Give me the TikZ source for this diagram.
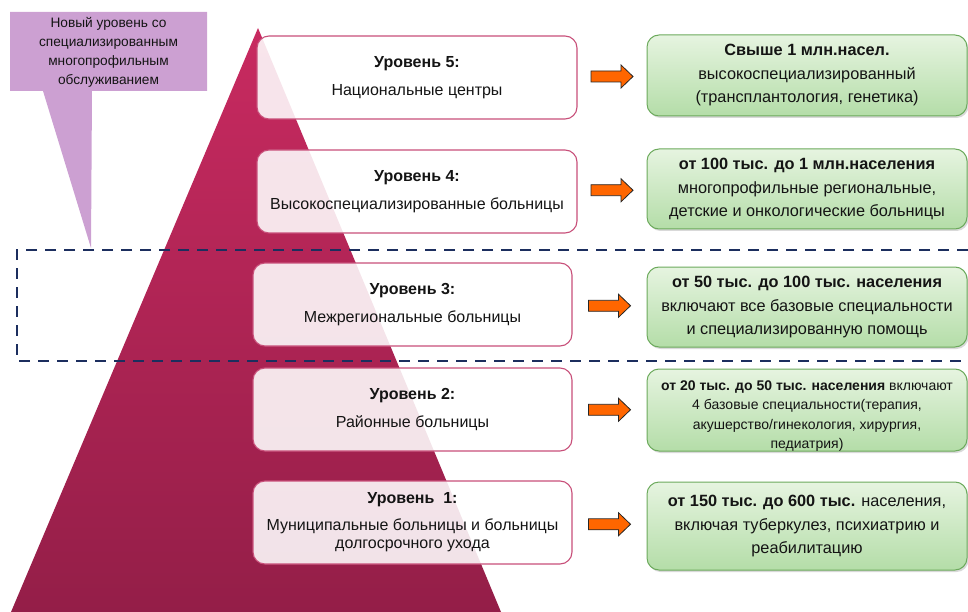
\documentclass[tikz,border=0pt]{standalone}
\usepackage{fontspec}
\setmainfont{Liberation Sans}
\usetikzlibrary{shadows,calc}
\definecolor{tritop}{RGB}{200,42,96}
\definecolor{tribot}{RGB}{148,30,72}
\definecolor{callc}{RGB}{204,160,210}
\definecolor{grntop}{RGB}{230,244,224}
\definecolor{grnbot}{RGB}{180,221,168}
\definecolor{grnb}{RGB}{108,170,92}
\definecolor{pinkb}{RGB}{200,80,122}
\definecolor{orng}{RGB}{255,102,0}
\definecolor{navy}{RGB}{28,46,94}
\definecolor{txt}{RGB}{20,20,20}
\begin{document}
\begin{tikzpicture}[x=1pt,y=-1pt,
  lvl/.style={draw=pinkb, line width=1.1pt, fill=white, fill opacity=0.88, text opacity=1,
    rounded corners=12pt, minimum width=320pt, minimum height=83pt, align=center,
    inner sep=2pt, text=txt, font=\fontsize{16}{18.5}\selectfont},
  grn/.style={draw=grnb, line width=1pt, top color=grntop, bottom color=grnbot,
    rounded corners=12pt, minimum width=320pt, align=center, inner sep=2pt, text=txt,
    font=\fontsize{16.3}{23.5}\selectfont,
    drop shadow={shadow xshift=1.5pt, shadow yshift=-2pt, opacity=0.25, fill=black!60}},
  gtext/.style={align=center, text=txt, inner sep=0pt, font=\fontsize{14}{19.5}\selectfont},
  blockarr/.pic={\draw[fill=orng, draw=black!85, line width=0.8pt]
    (-21,-5.5) -- (9,-5.5) -- (9,-11.5) -- (21,0) -- (9,11.5) -- (9,5.5) -- (-21,5.5) -- cycle;},
  dashline/.style={draw=navy, line width=2.5pt, dash pattern=on 11pt off 8pt}
]
\useasboundingbox (0,0) rectangle (968,612);
% pyramid
\shade[top color=tritop, bottom color=tribot] (258,28) -- (501,612) -- (11,612) -- cycle;
% callout
\fill[callc] (10,12) -- (207,12) -- (207,91) -- (92,91) -- (91,248) -- (43,91) -- (10,91) -- cycle;
\node[align=center, text=txt, font=\fontsize{13.7}{19}\selectfont] (callout) at (108.5,52)
  {Новый уровень со\\специализированным\\многопрофильным\\обслуживанием};
% dashed frame
\coordinate (dTR) at (968,250);
\coordinate (dTL) at (17,250);
\coordinate (dBL) at (17,361);
\coordinate (dBR) at (968,361);
\draw[dashline] (dTR) -- (dTL) -- (dBL) -- (dBR);
% level boxes
\node[lvl] (L5) at (417,77.5) {\textbf{Уровень 5:}\\[10pt]Национальные центры};
\node[lvl] (L4) at (417,191.5) {\textbf{Уровень 4:}\\[10pt]Высокоспециализированные больницы};
\node[lvl, minimum width=319pt] (L3) at (412.5,304.5) {\textbf{Уровень 3:}\\[10pt]Межрегиональные больницы};
\node[lvl, minimum width=319pt] (L2) at (412.5,409.5) {\textbf{Уровень 2:}\\[10pt]Районные больницы};
\node[lvl, minimum width=319pt] (L1) at (412.5,522.5) {\textbf{Уровень\ \ 1:}\\[8pt]Муниципальные больницы и больницы\\долгосрочного ухода};
% green boxes
\node[grn, minimum height=81pt] (G5) at (807,75.5) {\textbf{Свыше 1 млн.насел.}\\высокоспециализированный\\(трансплантология, генетика)};
\node[grn, minimum height=80pt] (G4) at (807,189) {\textbf{от 100 тыс. до 1 млн.населения}\\многопрофильные региональные,\\детские и онкологические больницы};
\node[grn, minimum height=80pt] (G3) at (807,307) {\textbf{от 50 тыс. до 100 тыс. населения}\\включают все базовые специальности\\и специализированную помощь};
\node[grn, minimum height=82pt] (G2) at (807,410) {};
\node[gtext] (G2t) at ([yshift=-6pt]G2.center) {\textbf{от 20 тыс. до 50 тыс. населения} включают\\4 базовые специальности(терапия,\\акушерство/гинекология, хирургия,\\педиатрия)};
\node[grn, minimum height=88pt] (G1) at (807,526) {\textbf{от 150 тыс. до 600 тыс.} населения,\\включая туберкулез, психиатрию и\\реабилитацию};
% arrows
\pic at ($(L5.east)!0.5!(G5.west)$) {blockarr};
\pic at ($(L4.east)!0.5!(G4.west)$) {blockarr};
\pic at ($(L3.east)!0.5!(G3.west)$) {blockarr};
\pic at ($(L2.east)!0.5!(G2.west)$) {blockarr};
\pic at ($(L1.east)!0.5!(G1.west)$) {blockarr};
\end{tikzpicture}
\end{document}
